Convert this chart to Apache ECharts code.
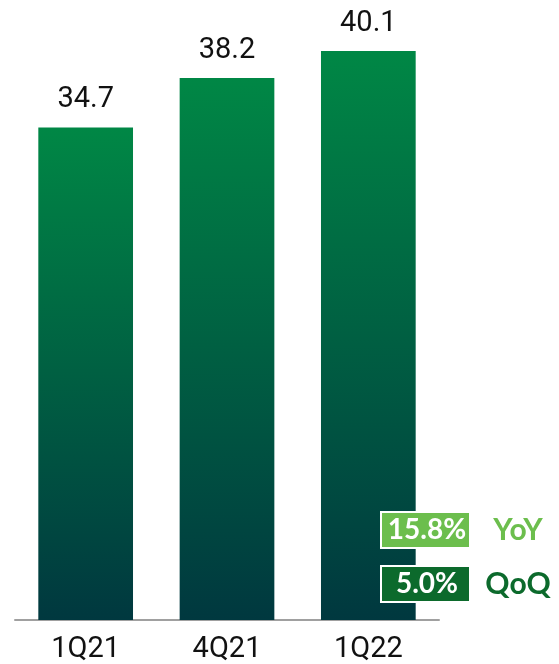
<!DOCTYPE html>
<html>
<head>
<meta charset="utf-8">
<style>
  html, body { margin: 0; padding: 0; background: #ffffff; }
  #chart { width: 559px; height: 664px; }
</style>
<script src="https://cdn.jsdelivr.net/npm/echarts@6/dist/echarts.min.js"></script>
</head>
<body>
<div id="chart"></div>
<script>
// Quarterly figures
const quarters = ['1Q21', '4Q21', '1Q22'];
const values = [34.7, 38.2, 40.1];

// Growth badges: percentage and period name
const growthRates = ['15.8%', '5.0%'];
const growthNames = ['YoY', 'QoQ'];
const growthColors = ['#6CBE4D', '#0C6A2C'];

const chart = echarts.init(document.getElementById('chart'));

const barFill = new echarts.graphic.LinearGradient(0, 0, 0, 1, [
  { offset: 0, color: '#008745' },
  { offset: 1, color: '#00383F' }
]);

// Badge layout (pixel placement of the annotation boxes)
const badgeTops = [512, 566];
const badges = [];
growthRates.forEach(function (rate, i) {
  badges.push({
    type: 'rect',
    z: 100,
    zlevel: 1,
    shape: { x: 381, y: badgeTops[i], width: 89, height: 36 },
    style: { fill: growthColors[i], stroke: '#ffffff', lineWidth: 2 }
  });
  badges.push({
    type: 'text',
    z: 101,
    zlevel: 1,
    x: 427,
    y: badgeTops[i] + 18,
    style: {
      text: rate,
      fill: '#ffffff',
      font: 'bold 28px Lato',
      align: 'center',
      verticalAlign: 'middle'
    }
  });
  badges.push({
    type: 'text',
    z: 101,
    zlevel: 1,
    x: 518,
    y: badgeTops[i] + 18,
    style: {
      text: growthNames[i],
      fill: growthColors[i],
      font: 'bold 30px Lato',
      align: 'center',
      verticalAlign: 'middle'
    }
  });
});

chart.setOption({
  animation: false,
  grid: { left: 15, right: 120, top: 24, bottom: 44, containLabel: false },
  xAxis: {
    type: 'category',
    data: quarters,
    axisLine: { show: true, lineStyle: { color: '#A0A0A0', width: 2 } },
    axisTick: { show: false },
    axisLabel: {
      margin: 15,
      fontFamily: 'Roboto',
      fontSize: 29,
      color: '#111111'
    }
  },
  yAxis: {
    type: 'value',
    min: 0,
    max: 42,
    show: false,
    splitLine: { show: false }
  },
  series: [
    {
      type: 'bar',
      data: values,
      barCategoryGap: '33%',
      itemStyle: { color: barFill },
      label: {
        show: true,
        position: 'top',
        distance: 13,
        fontFamily: 'Roboto',
        fontSize: 29,
        color: '#111111',
        formatter: function (p) { return p.value.toFixed(1); }
      }
    }
  ],
  graphic: badges
});
</script>
</body>
</html>
